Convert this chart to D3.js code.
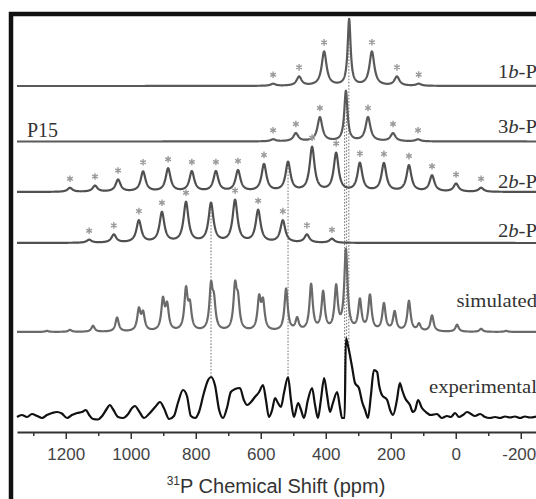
<!DOCTYPE html>
<html><head><meta charset="utf-8">
<script src="https://cdn.jsdelivr.net/npm/d3@7"></script>
<style>html,body{margin:0;padding:0;background:#fff;overflow:hidden}</style>
</head><body>
<svg id="c" width="536" height="499"></svg>
<script>
// ---------- data (ppm positions, intensities) ----------
const majorTicks = [1200, 1000, 800, 600, 400, 200, 0, -200];
const minorTicks = [1300, 1100, 900, 700, 500, 300, 100, -100];

// 1b-P
const p1Ppm  = [562, 482, 405, 328, 258, 181, 114];
const p1Int  = [2, 9, 34, 66, 34, 9, 2];
const p1Wid  = [9, 9, 9, 5.5, 9, 9, 9];
const p1Star = [1, 1, 1, 0, 1, 1, 1];
// 3b-P
const p2Ppm  = [562, 492, 418, 338, 270, 193, 116];
const p2Int  = [2, 8, 24, 50, 24, 8, 2];
const p2Wid  = [9, 9, 9, 6, 9, 9, 9];
const p2Star = [1, 1, 1, 0, 1, 1, 1];
// 2b-P (upper)
const p3Ppm  = [1187, 1110, 1039, 962, 885, 812, 738, 670, 590, 516, 442, 368, 295, 221, 144, 73, -1, -78];
const p3Int  = [4, 6, 12, 20, 23, 20, 20, 21, 27, 29, 44, 38, 28, 28, 26, 16, 8, 4];
const p3Wid  = [9, 9, 9, 9, 9, 9, 9, 9, 9, 9, 9, 9, 9, 9, 9, 9, 9, 9];
const p3Star = [1, 1, 1, 1, 1, 1, 1, 1, 1, 0, 1, 1, 1, 1, 1, 1, 1, 1];
// 2b-P (lower)
const p4Ppm  = [1128, 1052, 975, 904, 830, 753, 679, 608, 532, 458, 381];
const p4Int  = [3, 8, 22, 30, 40, 39, 42, 32, 22, 8, 4];
const p4Wid  = [9, 9, 9, 9, 9, 9, 9, 9, 9, 9, 9];
const p4Star = [1, 1, 1, 1, 1, 0, 1, 1, 1, 1, 1];
// simulated
const simPpm = [1258, 1187, 1116, 1042, 975, 962, 901, 888, 830, 818, 753, 744, 679, 670, 605, 593, 522, 488, 445, 408, 368, 338, 295, 264, 221, 188, 144, 113, 73, -4, -78, -155];
const simInt = [1, 2, 6, 14, 21, 17, 30, 24, 40, 23, 42, 25, 42, 26, 31, 27, 42, 12, 46, 38, 43, 80, 30, 35, 27, 19, 30, 7, 16, 7, 3, 1];
const simWid = 6;
// experimental (ppm, intensity)
const expPpm = [1350,1335,1319,1304,1288,1273,1258,1242,1227,1212,1196,1181,1165,1150,1138,1128,1116,1101,1088,1076,1064,1055,1039,1024,1008,996,987,975,959,944,925,910,898,882,867,855,839,827,815,802,790,775,762,753,741,728,716,704,692,679,664,652,642,630,618,605,593,584,575,565,556,547,538,528,516,507,498,485,476,467,455,442,433,424,415,405,396,387,378,365,356,350,342,338,332,319,310,298,288,279,270,261,252,242,236,227,211,202,193,181,172,165,156,141,132,125,116,104,92,77,58,43,27,15,2,-10,-22,-35,-47,-59,-75,-90,-105,-121,-136,-152,-167,-182,-198,-213,-228,-247];
const expInt = [1,3,1,4,2,0,3,5,6,4.5,0,3,5,6,8,3,-1,-1.5,2,8,13,9,1,0,4,10,12,7,0,4,11,16,10,-1,2,15,28,22,2,0,6,25,38,41,33,8,0,10,26,29,30,18,13,16,21,26,33,18,1,8,20,15,11,26,41,18,1,15,8,0,18,30,13,0,18,40,23,6,15,26,10,0,0,80,73,51,35,30,16,8,0,23,48,46,33,23,18,8,3,18,35,28,20,13,6,8,18,10,6,3,4,0,2,1,5,1,3,6,4,2,4,1,0,1,0,1.5,0.5,1.5,0,1.5,0.5,1.5,0.5,1];

// dotted guide lines: ppm, and the trace they start from
const guidePpm  = [753, 516, 342, 336, 329];
const guideFrom = [3, 2, 1, 1, 0];

// ---------- layout / style ----------
const svg = d3.select('#c');
const x = d3.scaleLinear().domain([1350, -250]).range([17, 537]);
const k = d3.scaleLinear().domain([0, 100]).range([0, 100]); // intensity -> px height

const traces = [
  {ppm: p1Ppm, int: p1Int, wid: p1Wid, star: p1Star, base: 86,  color: '#5a5a5a', label: ['1','b','-P'], ly: 78},
  {ppm: p2Ppm, int: p2Int, wid: p2Wid, star: p2Star, base: 141.5, color: '#5a5a5a', label: ['3','b','-P'], ly: 133},
  {ppm: p3Ppm, int: p3Int, wid: p3Wid, star: p3Star, base: 192, color: '#505050', label: ['2','b','-P'], ly: 188},
  {ppm: p4Ppm, int: p4Int, wid: p4Wid, star: p4Star, base: 243, color: '#505050', label: ['2','b','-P'], ly: 237},
  {ppm: simPpm, int: simInt, wid: simPpm.map(() => simWid), star: null, base: 332, color: '#6a6a6a', label: ['simulated'], ly: 307},
];
const expBase = 418;

function lor(t, p) {
  let s = 0;
  for (let i = 0; i < t.ppm.length; i++) {
    const d = (p - t.ppm[i]) / t.wid[i];
    s += t.int[i] / (1 + d * d);
  }
  return s;
}
const grid = d3.range(1350, -250.001, -0.5);

function expAt(p) {
  for (let i = 0; i < expPpm.length - 1; i++) {
    if (p <= expPpm[i] && p >= expPpm[i + 1]) {
      const f = (expPpm[i] - p) / (expPpm[i] - expPpm[i + 1]);
      return expInt[i] + f * (expInt[i + 1] - expInt[i]);
    }
  }
  return 0;
}

// frame
svg.append('rect').attr('x', 11).attr('y', 14).attr('width', 700).attr('height', 700)
  .attr('fill', 'none').attr('stroke', '#111').attr('stroke-width', 4.5);

// guides
guidePpm.forEach((p, i) => {
  const t = traces[guideFrom[i]];
  const y0 = t.base - k(lor(t, p));
  const y1 = expBase - k(expAt(p)) - 1;
  svg.append('line').attr('x1', x(p)).attr('x2', x(p)).attr('y1', y0).attr('y2', y1)
    .attr('stroke', '#8a8a8a').attr('stroke-width', 1.2).attr('stroke-dasharray', '1.6,1.6');
});

// traces
traces.forEach(t => {
  const line = d3.line().x(p => x(p)).y(p => t.base - k(lor(t, p)));
  svg.append('path').attr('d', line(grid)).attr('fill', 'none')
    .attr('stroke', t.color).attr('stroke-width', 2.2).attr('stroke-linejoin', 'round');
  if (t.star) {
    const sym = d3.symbol().type(d3.symbolAsterisk || d3.symbolCross).size(30);
    t.ppm.forEach((p, i) => {
      if (!t.star[i]) return;
      const yy = t.base - k(lor(t, p)) - 9;
      svg.append('path').attr('d', sym()).attr('transform', `translate(${x(p)},${yy})`)
        .attr('fill', 'none').attr('stroke', '#9a9a9a').attr('stroke-width', 1.4);
    });
  }
  const tx = svg.append('text').attr('transform', `translate(537,${t.ly}) scale(1.12,1)`)
    .attr('text-anchor', 'end').attr('font-family', 'Liberation Serif, Times New Roman, serif')
    .attr('font-size', 18.5).attr('fill', '#333');
  if (t.label.length === 3) {
    tx.append('tspan').text(t.label[0]);
    tx.append('tspan').attr('font-style', 'italic').text(t.label[1]);
    tx.append('tspan').text(t.label[2]);
  } else tx.text(t.label[0]);
});

// experimental
const expLine = d3.line().x((d, i) => x(expPpm[i])).y((d, i) => expBase - k(expInt[i])).curve(d3.curveMonotoneX);
svg.append('path').attr('d', expLine(expPpm)).attr('fill', 'none')
  .attr('stroke', '#111').attr('stroke-width', 2.2).attr('stroke-linejoin', 'round');
svg.append('text').attr('transform', `translate(537,393) scale(1.12,1)`)
  .attr('text-anchor', 'end').attr('font-family', 'Liberation Serif, Times New Roman, serif')
  .attr('font-size', 18.5).attr('fill', '#333').text('experimental');

// P15 label
svg.append('text').attr('x', 27).attr('y', 137).attr('font-family', 'Liberation Serif, Times New Roman, serif')
  .attr('font-size', 20).attr('fill', '#333').text('P15');

// axis
const ax = svg.append('g').attr('transform', 'translate(0,432)');
ax.call(d3.axisBottom(x).tickValues(majorTicks).tickSize(7).tickSizeOuter(0).tickPadding(9).tickFormat(d => String(d)));
const axm = svg.append('g').attr('transform', 'translate(0,432)');
axm.call(d3.axisBottom(x).tickValues(minorTicks).tickSize(4).tickSizeOuter(0).tickFormat(''));
axm.select('.domain').remove();
svg.selectAll('.domain').attr('stroke', '#333').attr('stroke-width', 2);
svg.selectAll('.tick line').attr('stroke', '#333').attr('stroke-width', 1.5);
ax.selectAll('.tick text').attr('font-family', 'Liberation Sans, Arial, sans-serif')
  .attr('font-size', 17).attr('fill', '#444')
  .attr('dx', d => d === -200 ? -2 : 0);

// axis title
const title = svg.append('text').attr('x', 276).attr('y', 493).attr('text-anchor', 'middle')
  .attr('font-family', 'Liberation Sans, Arial, sans-serif').attr('font-size', 20).attr('fill', '#333');
title.append('tspan').attr('font-size', 12).attr('dy', -8).text('31');
title.append('tspan').attr('dy', 8).text('P Chemical Shift (ppm)');
</script>
</body></html>
